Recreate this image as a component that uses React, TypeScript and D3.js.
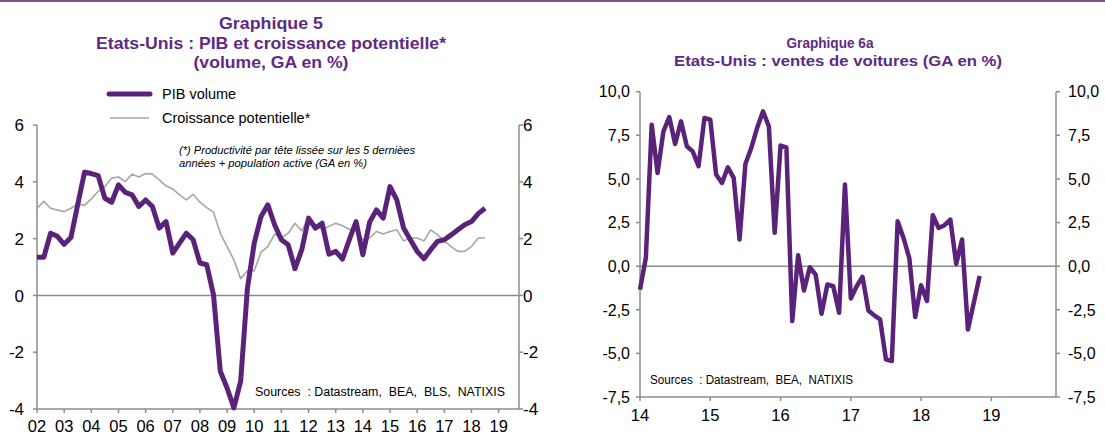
import React from "react";
import * as d3 from "d3";

// ---------- Data ----------
// Graphique 5 : quarterly, 2002Q1 .. 2018Q3
const pibStart = 2002;
const pibVolume = [
  1.34, 1.34, 2.19, 2.08, 1.8, 2.04, 3.2, 4.34, 4.29, 4.22, 3.42, 3.28, 3.89, 3.63, 3.54, 3.13,
  3.36, 3.13, 2.37, 2.6, 1.49, 1.84, 2.19, 1.96, 1.14, 1.08, 0.02, -2.67, -3.26, -3.96, -3.02, 0.26,
  1.84, 2.78, 3.19, 2.49, 1.96, 1.78, 0.94, 1.61, 2.72, 2.37, 2.54, 1.45, 1.55, 1.28, 1.96, 2.6,
  1.43, 2.58, 3.01, 2.72, 3.83, 3.36, 2.37, 1.96, 1.55, 1.29, 1.61, 1.9, 1.96, 2.13, 2.31, 2.49,
  2.6, 2.88, 3.07,
];
const croissancePotentielle = [
  3.07, 3.31, 3.07, 3.01, 2.95, 3.07, 3.21, 3.17, 3.4, 3.66, 3.83, 4.13, 4.17, 4.01, 4.27, 4.17,
  4.29, 4.27, 4.07, 3.86, 3.75, 3.54, 3.36, 3.56, 3.28, 3.09, 2.93, 2.19, 1.72, 1.25, 0.59, 0.87,
  0.87, 1.52, 1.72, 2.16, 2.02, 2.19, 2.54, 2.27, 2.74, 2.49, 2.31, 2.43, 2.54, 2.45, 2.33, 2.31,
  1.96, 2.02, 2.25, 2.16, 2.25, 2.31, 1.92, 2.02, 2.02, 1.92, 2.31, 2.13, 1.92, 1.72, 1.55, 1.55,
  1.72, 2.02, 2.02,
];
const leftYTicks = [-4, -2, 0, 2, 4, 6];
const leftXTickYears = [2002, 2003, 2004, 2005, 2006, 2007, 2008, 2009, 2010, 2011, 2012, 2013, 2014, 2015, 2016, 2017, 2018, 2019];

// Graphique 6a : monthly, Jan 2014 .. Nov 2018
const carStart = 2014;
const ventesVoitures = [
  -1.34, 0.48, 8.11, 5.34, 7.73, 8.55, 7.0, 8.3, 6.87, 6.58, 5.73, 8.49,
  8.4, 5.25, 4.77, 5.67, 5.06, 1.53, 5.86, 6.77, 7.92, 8.87, 8.02, 1.91,
  6.91, 6.81, -3.15, 0.63, -1.39, -0.06, -0.48, -2.73, -1.05, -1.15, -2.67, 4.68,
  -1.85, -1.15, -0.61, -2.54, -2.82, -3.05, -5.34, -5.44, 2.58, 1.62, 0.44, -2.92,
  -1.09, -2.0, 2.92, 2.19, 2.35, 2.67, 0.13, 1.53, -3.63, -2.1, -0.57,
];
const rightYTicks = [-7.5, -5, -2.5, 0, 2.5, 5, 7.5, 10];
const rightXTickYears = [2014, 2015, 2016, 2017, 2018, 2019];

// ---------- Styles ----------
const PURPLE = "#5b2279";
const TITLE = "#5e2a84";
const GRAY_LINE = "#a6a6a6";
const AXIS = "#8c8c8c";
const FONT = "Liberation Sans, Arial, Helvetica, sans-serif";

export default function App() {
  // Left chart scales
  const lx = d3.scaleLinear().domain([2002, 2019.75]).range([37, 519]);
  const ly = d3.scaleLinear().domain([-4, 6]).range([409, 125]);
  const lLine = d3
    .line<number>()
    .x((_, i) => lx(pibStart + i / 4))
    .y((d) => ly(d));

  // Right chart scales
  const rx = d3.scaleLinear().domain([2014, 2019.92]).range([640, 1056]);
  const ry = d3.scaleLinear().domain([-7.5, 10]).range([397, 91.7]);
  const rLine = d3
    .line<number>()
    .x((_, i) => rx(carStart + i / 12))
    .y((d) => ry(d));
  const fmtComma = (v: number) => d3.format(".1f")(v).replace(".", ",").replace("−", "-");

  return (
    <svg
      width={1105}
      height={437}
      style={{ position: "absolute", left: 0, top: 0, background: "#fff" }}
      fontFamily={FONT}
    >
      <rect x={0} y={0} width={1105} height={437} fill="#fff" />
      <rect x={0} y={0} width={1105} height={2} fill="#7d4e96" />

      {/* ---------- Left chart ---------- */}
      <g fill={TITLE} fontWeight="bold" textAnchor="middle" fontSize={16.5}>
        <text x={271} y={29} textLength={104} lengthAdjust="spacingAndGlyphs">Graphique 5</text>
        <text x={271} y={49} textLength={350} lengthAdjust="spacingAndGlyphs">Etats-Unis : PIB et croissance potentielle*</text>
        <text x={271} y={68} textLength={155} lengthAdjust="spacingAndGlyphs">(volume, GA en %)</text>
      </g>

      {/* legend */}
      <line x1={109} x2={150} y1={94} y2={94} stroke={PURPLE} strokeWidth={5} strokeLinecap="round" />
      <text x={162} y={99} fontSize={14.5} fill="#000">PIB volume</text>
      <line x1={110} x2={149} y1={118} y2={118} stroke={GRAY_LINE} strokeWidth={1.5} />
      <text x={162} y={123} fontSize={14.5} fill="#000">Croissance potentielle*</text>

      {/* note */}
      <g fontSize={10.5} fontStyle="italic" fill="#000">
        <text x={179} y={154} textLength={236} lengthAdjust="spacingAndGlyphs">(*) Productivité par tête lissée sur les 5 dernièes</text>
        <text x={179} y={166.5} textLength={188} lengthAdjust="spacingAndGlyphs">années + population active (GA en %)</text>
      </g>

      {/* axes */}
      <g stroke={AXIS} strokeWidth={1.5}>
        <line x1={lx(2002)} x2={lx(2002)} y1={ly(6)} y2={ly(-4)} />
        <line x1={lx(2019.75)} x2={lx(2019.75)} y1={ly(6)} y2={ly(-4)} />
        <line x1={lx(2002)} x2={lx(2019.75)} y1={ly(0)} y2={ly(0)} />
        <line x1={lx(2002)} x2={lx(2019.75)} y1={ly(-4)} y2={ly(-4)} />
        {leftYTicks.map((t) => (
          <g key={t}>
            <line x1={lx(2002) - 4} x2={lx(2002)} y1={ly(t)} y2={ly(t)} />
            <line x1={lx(2019.75)} x2={lx(2019.75) + 4} y1={ly(t)} y2={ly(t)} />
          </g>
        ))}
        {leftXTickYears.map((t) => (
          <line key={t} x1={lx(t)} x2={lx(t)} y1={ly(-4)} y2={ly(-4) + 4} />
        ))}
      </g>
      <g fontSize={17} fill="#000">
        {leftYTicks.map((t) => (
          <g key={t}>
            <text x={24} y={ly(t)} dy="0.36em" textAnchor="end">{t}</text>
            <text x={523} y={ly(t)} dy="0.36em" textAnchor="start">{t}</text>
          </g>
        ))}
        {leftXTickYears.map((t) => (
          <text key={t} x={lx(t)} y={432} fontSize={16.5} textAnchor="middle">{String(t).slice(2)}</text>
        ))}
      </g>

      <path d={lLine(croissancePotentielle) || ""} fill="none" stroke={GRAY_LINE} strokeWidth={1.6} strokeLinejoin="round" />
      <path d={lLine(pibVolume) || ""} fill="none" stroke={PURPLE} strokeWidth={5} strokeLinejoin="round" />

      <text x={255} y={396} fontSize={12.5} fill="#000" textLength={250} lengthAdjust="spacingAndGlyphs" style={{ whiteSpace: "pre" }}>
        Sources  : Datastream,  BEA,  BLS,  NATIXIS
      </text>

      {/* ---------- Right chart ---------- */}
      <g fill={TITLE} fontWeight="bold" textAnchor="middle">
        <text x={830} y={48} fontSize={15} textLength={87} lengthAdjust="spacingAndGlyphs">Graphique 6a</text>
        <text x={838} y={66} fontSize={14.5} textLength={328} lengthAdjust="spacingAndGlyphs">Etats-Unis : ventes de voitures (GA en %)</text>
      </g>

      <g stroke={AXIS} strokeWidth={1.5}>
        <line x1={rx(2014)} x2={rx(2014)} y1={ry(10)} y2={ry(-7.5)} />
        <line x1={rx(2019.92)} x2={rx(2019.92)} y1={ry(10)} y2={ry(-7.5)} />
        <line x1={rx(2014)} x2={rx(2019.92)} y1={ry(0)} y2={ry(0)} />
        <line x1={rx(2014)} x2={rx(2019.92)} y1={ry(-7.5)} y2={ry(-7.5)} />
        {rightYTicks.map((t) => (
          <g key={t}>
            <line x1={rx(2014) - 4} x2={rx(2014)} y1={ry(t)} y2={ry(t)} />
            <line x1={rx(2019.92)} x2={rx(2019.92) + 4} y1={ry(t)} y2={ry(t)} />
          </g>
        ))}
        {rightXTickYears.map((t) => (
          <line key={t} x1={rx(t)} x2={rx(t)} y1={ry(-7.5)} y2={ry(-7.5) + 4} />
        ))}
      </g>
      <g fontSize={16} fill="#000">
        {rightYTicks.map((t) => (
          <g key={t}>
            <text x={630} y={ry(t)} dy="0.36em" textAnchor="end">{fmtComma(t)}</text>
            <text x={1068} y={ry(t)} dy="0.36em" textAnchor="start">{fmtComma(t)}</text>
          </g>
        ))}
        {rightXTickYears.map((t) => (
          <text key={t} x={rx(t)} y={421} textAnchor="middle" fontSize={16.5}>{String(t).slice(2)}</text>
        ))}
      </g>

      <path d={rLine(ventesVoitures) || ""} fill="none" stroke={PURPLE} strokeWidth={4.5} strokeLinejoin="round" />

      <text x={650} y={384} fontSize={12} fill="#000" textLength={203} lengthAdjust="spacingAndGlyphs" style={{ whiteSpace: "pre" }}>
        Sources  : Datastream,  BEA,  NATIXIS
      </text>
    </svg>
  );
}
